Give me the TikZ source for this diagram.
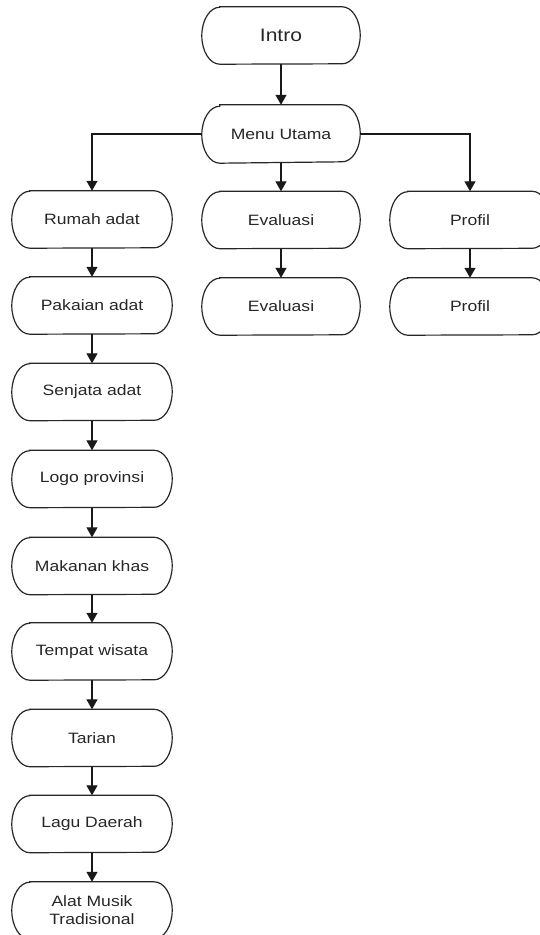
\documentclass[tikz,border=0pt]{standalone}
\usepackage{fontspec}
\setmainfont{Liberation Sans}[FakeStretch=1.17]
\usetikzlibrary{arrows.meta}
\newcommand\stadium[1]{\draw[outline] ([xshift=18pt]#1.north west) -- ([xshift=-18pt]#1.north east)
  arc[start angle=90,end angle=-90,x radius=18pt,y radius=28.5pt] -- ([xshift=18pt]#1.south west)
  arc[start angle=270,end angle=90,x radius=18pt,y radius=28.5pt] -- cycle;}
\begin{document}
\begin{tikzpicture}[x=1pt,y=-1pt,
  fbox/.style={rectangle,draw=none,
    minimum width=160pt,minimum height=57pt,inner sep=0pt,text=black!85,
    font=\fontsize{15}{18}\selectfont,align=center},
  outline/.style={draw=black!85,line width=1.2pt},
  conn/.style={draw=black!90,line width=1.3pt,-{Triangle[width=11pt,length=10pt]}}]
\useasboundingbox (0,0) rectangle (539,935);
\node[fbox,font=\fontsize{18}{21}\selectfont,minimum width=158pt] (intro) at (281,35.5) {Intro};
\node[fbox,minimum width=158pt,minimum height=58pt] (menu) at (281,134) {Menu Utama};
\node[fbox,minimum width=158pt] (ev1) at (281,220) {Evaluasi};
\node[fbox,minimum width=158pt] (ev2) at (281,306.5) {Evaluasi};
\node[fbox] (pr1) at (470,220) {Profil};
\node[fbox] (pr2) at (470,306.5) {Profil};
\node[fbox] (rumah) at (92,219.5) {Rumah adat};
\node[fbox] (pakaian) at (92,305.5) {Pakaian adat};
\node[fbox] (senjata) at (92,392) {Senjata adat};
\node[fbox] (logo) at (92,479) {Logo provinsi};
\node[fbox] (makanan) at (92,566) {Makanan khas};
\node[fbox] (tempat) at (92,651.5) {Tempat wisata};
\node[fbox] (tarian) at (92,738) {Tarian};
\node[fbox] (lagu) at (92,824) {Lagu Daerah};
\node[fbox] (alat) at (92,910.5) {Alat Musik\\Tradisional};
\foreach \n in {intro,menu,ev1,ev2,pr1,pr2,rumah,pakaian,senjata,logo,makanan,tempat,tarian,lagu,alat}{\stadium{\n}}
\draw[conn] (intro) -- (menu);
\draw[conn] (menu) -- (ev1);
\draw[conn] (ev1) -- (ev2);
\draw[conn] (menu.west) -| (rumah.north);
\draw[conn] (menu.east) -| (pr1.north);
\draw[conn] (pr1) -- (pr2);
\draw[conn] (rumah) -- (pakaian);
\draw[conn] (pakaian) -- (senjata);
\draw[conn] (senjata) -- (logo);
\draw[conn] (logo) -- (makanan);
\draw[conn] (makanan) -- (tempat);
\draw[conn] (tempat) -- (tarian);
\draw[conn] (tarian) -- (lagu);
\draw[conn] (lagu) -- (alat);
\end{tikzpicture}
\end{document}
